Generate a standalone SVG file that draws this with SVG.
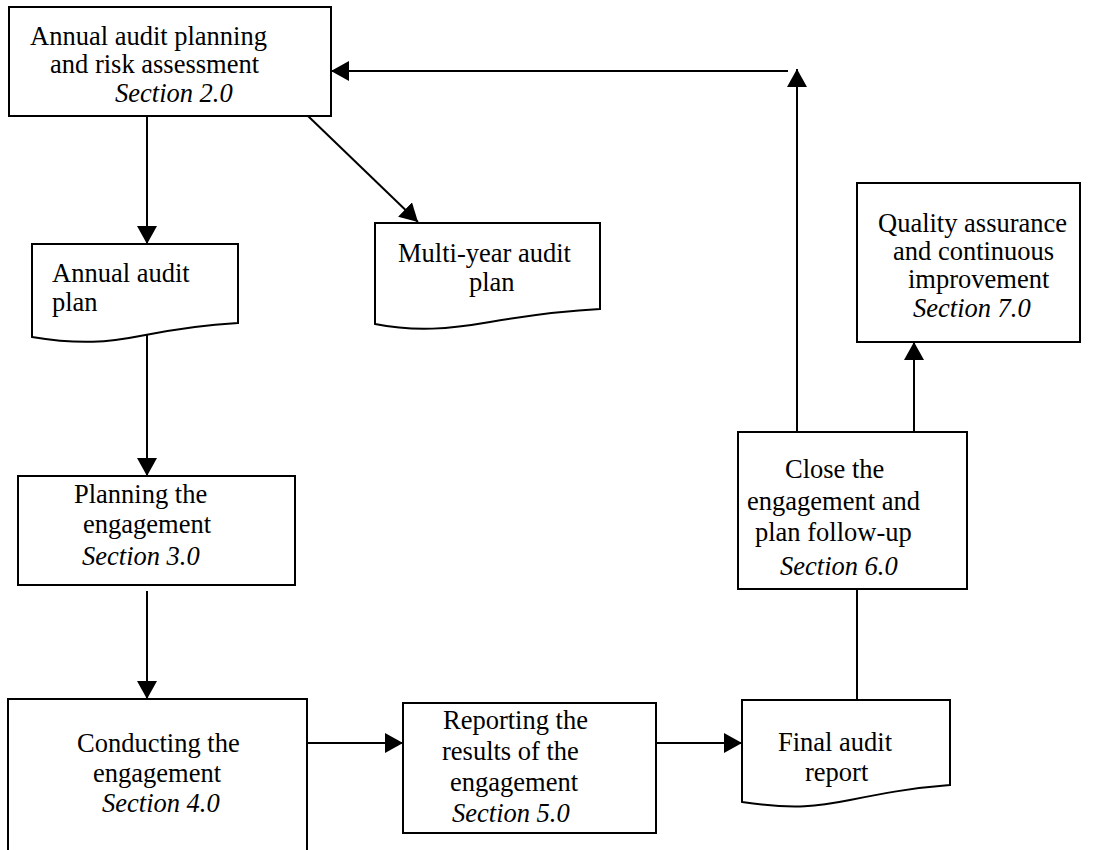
<svg xmlns="http://www.w3.org/2000/svg" width="1099" height="850" viewBox="0 0 1099 850">
  <style>
    .box { fill: #ffffff; stroke: #000000; stroke-width: 2; }
    .lbl { font-family: "Liberation Serif", "Times New Roman", serif; font-size: 26.5px; fill: #000000; }
    .sec { font-style: italic; }
    .wire { fill: none; stroke: #000000; stroke-width: 2; }
  </style>
  <defs>
    <marker id="head" viewBox="0 0 18 20" refX="18" refY="10" markerWidth="18" markerHeight="20" markerUnits="userSpaceOnUse" orient="auto">
      <path d="M0,0 L18,10 L0,20 Z" fill="#000000"/>
    </marker>
  </defs>
  <rect width="1099" height="850" fill="#ffffff"/>

  <!-- connectors -->
  <g id="connectors">
    <line class="wire" x1="147" y1="116" x2="147" y2="244" marker-end="url(#head)"/>
    <line class="wire" x1="308" y1="116" x2="418" y2="222" marker-end="url(#head)"/>
    <line class="wire" x1="147" y1="333" x2="147" y2="476" marker-end="url(#head)"/>
    <line class="wire" x1="147" y1="591" x2="147" y2="699" marker-end="url(#head)"/>
    <line class="wire" x1="307" y1="743" x2="403" y2="743" marker-end="url(#head)"/>
    <line class="wire" x1="650" y1="743" x2="742" y2="743" marker-end="url(#head)"/>
    <line class="wire" x1="857" y1="700" x2="857" y2="589"/>
    <line class="wire" x1="914" y1="432" x2="914" y2="342" marker-end="url(#head)"/>
    <line class="wire" x1="797" y1="432" x2="797" y2="69" marker-end="url(#head)"/>
    <line class="wire" x1="788" y1="71" x2="331" y2="71" marker-end="url(#head)"/>
  </g>

  <!-- Annual audit planning and risk assessment -->
  <g id="n-planning-risk">
    <rect class="box" x="9" y="7" width="322" height="109"/>
    <text class="lbl" x="30" y="45">Annual audit planning</text>
    <text class="lbl" x="50" y="73">and risk assessment</text>
    <text class="lbl sec" x="115" y="102">Section 2.0</text>
  </g>

  <!-- Annual audit plan (document) -->
  <g id="n-annual-plan">
    <path class="box" d="M32,244 H238 V323 C200,325 170,330 140,336 C110,342 80,345 32,337 Z"/>
    <text class="lbl" x="52" y="282">Annual audit</text>
    <text class="lbl" x="52" y="311">plan</text>
  </g>

  <!-- Multi-year audit plan (document) -->
  <g id="n-multiyear">
    <path class="box" d="M375,223 H600 V309 C560,311 525,316 490,322 C450,329 415,332 375,324 Z"/>
    <text class="lbl" x="398" y="262">Multi-year audit</text>
    <text class="lbl" x="469" y="291">plan</text>
  </g>

  <!-- Planning the engagement -->
  <g id="n-plan-engagement">
    <rect class="box" x="18" y="476" width="277" height="109"/>
    <text class="lbl" x="74" y="503">Planning the</text>
    <text class="lbl" x="83" y="533">engagement</text>
    <text class="lbl sec" x="82" y="565">Section 3.0</text>
  </g>

  <!-- Conducting the engagement -->
  <g id="n-conducting">
    <rect class="box" x="8" y="699" width="299" height="170"/>
    <text class="lbl" x="77" y="752">Conducting the</text>
    <text class="lbl" x="93" y="782">engagement</text>
    <text class="lbl sec" x="102" y="812">Section 4.0</text>
  </g>

  <!-- Reporting the results of the engagement -->
  <g id="n-reporting">
    <rect class="box" x="403" y="703" width="253" height="130"/>
    <text class="lbl" x="443" y="729">Reporting the</text>
    <text class="lbl" x="442" y="760">results of the</text>
    <text class="lbl" x="450" y="791">engagement</text>
    <text class="lbl sec" x="452" y="822">Section 5.0</text>
  </g>

  <!-- Final audit report (document) -->
  <g id="n-final-report">
    <path class="box" d="M742,700 H950 V785 C910,788 880,794 850,800 C820,806 795,810 742,802 Z"/>
    <text class="lbl" x="778" y="751">Final audit</text>
    <text class="lbl" x="805" y="781">report</text>
  </g>

  <!-- Close the engagement and plan follow-up -->
  <g id="n-close">
    <rect class="box" x="738" y="432" width="229" height="157"/>
    <text class="lbl" x="785" y="478">Close the</text>
    <text class="lbl" x="747" y="510">engagement and</text>
    <text class="lbl" x="755" y="541">plan follow-up</text>
    <text class="lbl sec" x="780" y="575">Section 6.0</text>
  </g>

  <!-- Quality assurance and continuous improvement -->
  <g id="n-quality">
    <rect class="box" x="857" y="183" width="223" height="159"/>
    <text class="lbl" x="878" y="232">Quality assurance</text>
    <text class="lbl" x="893" y="260">and continuous</text>
    <text class="lbl" x="908" y="288">improvement</text>
    <text class="lbl sec" x="913" y="317">Section 7.0</text>
  </g>
</svg>
